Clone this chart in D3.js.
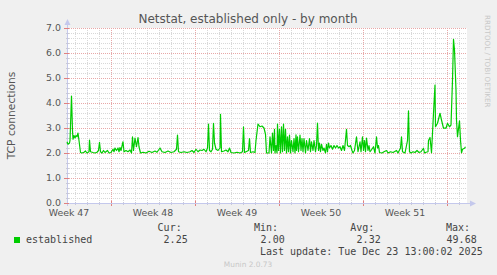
<!DOCTYPE html>
<html><head><meta charset="utf-8">
<script src="https://cdn.jsdelivr.net/npm/d3@7"></script>
<style>
html,body{margin:0;padding:0;background:#f0f0f0;}
svg{display:block;}
</style></head>
<body>
<script>
// ---- data ----
const title = "Netstat, established only - by month";
const yLabel = "TCP connections";
const seriesName = "established";
const startUTC = Date.UTC(2025, 10, 20, 8, 0); // left edge of the graph
const endUTC = Date.UTC(2025, 11, 23, 16, 0);  // right edge
const weekLabels = ["Week 47", "Week 48", "Week 49", "Week 50", "Week 51"];
const weekLabelDates = [[2025,10,20],[2025,10,27],[2025,11,4],[2025,11,11],[2025,11,18]]; // Thursdays (label at noon)
const yTicks = [0, 1, 2, 3, 4, 5, 6, 7];
const legendHeaders = ["Cur:", "Min:", "Avg:", "Max:"];
const legendValues = ["2.25", "2.00", "2.32", "49.68"];
const lastUpdate = "Last update: Tue Dec 23 13:00:02 2025";
// hours after start, value
const sampleHours = [0,2,5,6,9,11,12,14,16,18,20,22,24,27,30,34,37,40,44,45,47,52,56,60,63,65,67,70,73,76,81,84,88,92,94,96,99,102,104,106,108,112,114,118,122,126,129,131,133,136,139,142,144,147,152,158,164,170,176,180,186,190,196,202,208,214,219,221,223,228,234,240,246,250,254,258,262,266,270,274,278,281,283,285,288,291,293,295,298,302,306,307,309,314,318,322,325,328,334,340,346,351,353,355,358,363,365,367,372,376,378,382,386,390,394,397,399,404,406,409,411,413,415,416,418,420,421,423,425,427,429,431,433,435,437,439,441,443,445,447,449,452,454,456,458,459,461,463,466,468,470,472,474,477,479,482,485,487,489,492,494,497,499,501,503,505,507,509,512,514,517,519,521,523,525,528,531,534,537,540,543,546,549,552,555,559,561,564,567,570,572,575,579,582,586,588,591,593,595,597,599,602,604,606,608,613,616,619,621,623,625,630,634,639,642,647,652,659,662,667,669,671,676,681,683,685,688,692,696,700,704,708,713,715,718,722,723,726,729,733,736,737,741,746,749,753,756,758,761,765,768,771,773,775,778,779,781,785,787,789,791,795,797];
const connections = [2.45,2.35,2.4,2.5,4.28,2.9,2.55,2.7,2.6,2.7,2.65,2.8,2.5,2.02,2.0,2.03,2.08,2.0,2.05,2.52,2.05,2.02,2.0,2.03,2.1,2.43,2.05,2.0,2.1,2.02,2.1,2.0,2.02,2.15,2.05,2.2,2.1,2.2,2.05,2.22,2.1,2.45,2.05,2.1,2.05,2.12,2.0,2.65,2.1,2.6,2.25,2.62,2.25,2.0,2.03,2.0,2.07,2.02,2.08,2.03,2.2,2.05,2.02,2.08,2.02,2.05,2.15,2.72,2.05,2.02,2.05,2.02,2.05,2.1,2.02,2.15,2.05,2.12,2.1,2.15,2.05,2.2,3.16,2.1,2.05,2.15,3.19,2.4,2.15,2.1,2.2,3.55,2.05,2.08,2.12,2.05,2.2,2.02,2.0,2.03,2.0,2.05,3.05,2.02,2.05,2.1,2.58,2.02,2.05,2.02,2.5,3.16,3.05,3.08,3.0,2.75,2.0,2.0,2.65,2.0,2.8,2.1,2.95,2.0,2.3,2.0,3.16,2.1,2.95,2.0,3.05,2.05,3.16,2.1,2.95,2.0,2.65,2.05,2.72,2.0,2.5,2.05,2.58,2.0,2.73,2.1,2.65,2.05,2.72,2.1,2.58,2.05,2.58,2.0,2.5,2.1,2.58,2.05,2.45,2.1,2.5,2.05,2.3,3.2,2.1,2.4,2.05,2.35,2.1,2.2,2.0,2.35,2.05,2.4,2.2,2.3,2.15,2.3,2.2,2.3,2.2,2.25,2.1,2.3,2.1,2.95,2.3,2.25,2.3,2.1,2.0,2.1,2.65,2.05,2.45,2.05,2.65,2.1,2.5,2.05,2.6,2.1,2.3,2.05,2.1,2.25,2.0,2.65,2.2,2.3,2.02,2.0,2.05,2.1,2.0,2.05,2.02,2.1,2.0,2.2,2.65,2.05,2.0,2.5,3.69,2.05,2.0,2.05,2.02,2.1,2.02,2.05,2.19,2.0,2.03,2.05,2.5,2.62,2.01,3.59,4.72,3.05,3.19,3.59,3.32,2.99,3.0,2.99,3.19,3.05,3.12,4.92,6.55,6.12,4.52,3.32,2.65,3.29,2.52,2.01,2.15,2.19,2.25];

// ---- layout ----
const W = 497, H = 275;
const m = {left: 67, right: 467, top: 28, bottom: 203};
const svg = d3.select("body").append("svg").attr("width", W).attr("height", H);
svg.append("rect").attr("width", W).attr("height", H).attr("fill", "#f0f0f0");
svg.append("rect").attr("x", m.left).attr("y", m.top).attr("width", m.right - m.left).attr("height", m.bottom - m.top).attr("fill", "#ffffff");

const x = d3.scaleUtc().domain([new Date(startUTC), new Date(endUTC)]).range([m.left, m.right]);
const y = d3.scaleLinear().domain([0, 7]).range([m.bottom, m.top]);

const data = sampleHours.map((h, i) => ({t: new Date(startUTC + h * 3600e3), v: connections[i]}));

const grid = svg.append("g").attr("shape-rendering", "crispEdges");
// minor horizontal grid every 0.2
d3.range(0, 7.01, 0.2).forEach(v => {
  const major = Math.abs(v - Math.round(v)) < 1e-6;
  if (major) return;
  const yy = Math.round(y(v)) + 0.5;
  grid.append("line").attr("x1", m.left).attr("x2", m.right).attr("y1", yy).attr("y2", yy)
    .attr("stroke", "#d8d8d8").attr("stroke-dasharray", "1,1");
});
// minor vertical grid every day
x.ticks(d3.utcDay.every(1)).forEach(d => {
  if (d3.utcMonday(d).getTime() === d.getTime()) return;
  const xx = Math.round(x(d)) + 0.5;
  grid.append("line").attr("x1", xx).attr("x2", xx).attr("y1", m.top).attr("y2", m.bottom)
    .attr("stroke", "#d8d8d8").attr("stroke-dasharray", "1,1");
  grid.append("line").attr("x1", xx).attr("x2", xx).attr("y1", m.bottom - 1).attr("y2", m.bottom + 2).attr("stroke", "#c8c8d8");
});
// major horizontal
yTicks.forEach(v => {
  const yy = Math.round(y(v)) + 0.5;
  if (v > 0) grid.append("line").attr("x1", m.left).attr("x2", m.right).attr("y1", yy).attr("y2", yy)
    .attr("stroke", "#e8a8a8").attr("stroke-dasharray", "1,1");
});
// major vertical on Mondays
x.ticks(d3.utcMonday.every(1)).forEach(d => {
  const xx = Math.round(x(d)) + 0.5;
  grid.append("line").attr("x1", xx).attr("x2", xx).attr("y1", m.top).attr("y2", m.bottom)
    .attr("stroke", "#e8a8a8").attr("stroke-dasharray", "1,1");
  grid.append("line").attr("x1", xx).attr("x2", xx).attr("y1", m.bottom - 2).attr("y2", m.bottom + 3).attr("stroke", "#e08080");
});

// axes lines
const axisColor = "#c4c8ec";
svg.append("line").attr("x1", m.left + 0.5).attr("x2", m.left + 0.5).attr("y1", m.bottom + 3).attr("y2", m.top - 5)
  .attr("stroke", axisColor).attr("shape-rendering", "crispEdges");
svg.append("line").attr("x1", m.left - 3).attr("x2", m.right + 4).attr("y1", m.bottom + 0.5).attr("y2", m.bottom + 0.5)
  .attr("stroke", axisColor).attr("shape-rendering", "crispEdges");
svg.append("path").attr("d", `M${m.left - 2.5},${m.top - 3} L${m.left + 3.5},${m.top - 3} L${m.left + 0.5},${m.top - 9} Z`).attr("fill", axisColor);
svg.append("path").attr("d", `M${m.right + 3},${m.bottom - 2.5} L${m.right + 3},${m.bottom + 3.5} L${m.right + 9},${m.bottom + 0.5} Z`).attr("fill", axisColor);
// y minor ticks on axis
d3.range(0, 7.01, 0.2).forEach(v => {
  const yy = Math.round(y(v)) + 0.5;
  const major = Math.abs(v - Math.round(v)) < 1e-6;
  svg.append("line").attr("x1", m.left - (major ? 3 : 1)).attr("x2", m.left + 2).attr("y1", yy).attr("y2", yy)
    .attr("stroke", major ? "#e08080" : "#c8c8d8").attr("shape-rendering", "crispEdges");
});

// data line
svg.append("path").datum(data)
  .attr("d", d3.line().x(d => x(d.t)).y(d => y(d.v)))
  .attr("fill", "none").attr("stroke", "#00cc00").attr("stroke-width", 1.2).attr("stroke-linejoin", "round");

// tick labels
const sans = "DejaVu Sans, sans-serif";
svg.append("g").selectAll("text").data(yTicks).join("text")
  .attr("x", 61).attr("y", d => y(d)).attr("dy", "0.35em").attr("text-anchor", "end")
  .attr("font-family", sans).attr("font-size", 9.4).attr("fill", "#555")
  .text(d => d.toFixed(1));
svg.append("g").selectAll("text").data(weekLabels).join("text")
  .attr("x", (d, i) => x(new Date(Date.UTC(weekLabelDates[i][0], weekLabelDates[i][1], weekLabelDates[i][2], 12)))).attr("y", 216)
  .attr("text-anchor", "middle").attr("font-family", sans).attr("font-size", 9.4).attr("fill", "#555")
  .text(d => d);

// title
svg.append("text").attr("x", 248).attr("y", 23).attr("text-anchor", "middle")
  .attr("font-family", sans).attr("font-size", 12).attr("fill", "#555").text(title);
// y label
svg.append("text").attr("transform", `translate(15,${(m.top + m.bottom) / 2}) rotate(-90)`).attr("text-anchor", "middle")
  .attr("font-family", sans).attr("font-size", 10.7).attr("fill", "#555").text(yLabel);
// watermark right
svg.append("text").attr("transform", `translate(485,15) rotate(90)`).attr("text-anchor", "start")
  .attr("font-family", sans).attr("font-size", 7.2).attr("fill", "#c8c8c8").text("RRDTOOL / TOBI OETIKER");

// legend
const mono = "DejaVu Sans Mono, monospace";
const headerX = [181.7, 278, 374.3, 470];
const valueX = [187.7, 284.7, 380.7, 476.7];
svg.append("g").selectAll("text").data(legendHeaders).join("text")
  .attr("x", (d, i) => headerX[i]).attr("y", 231).attr("text-anchor", "end")
  .attr("font-family", mono).attr("font-size", 10).attr("fill", "#444").text(d => d);
svg.append("g").selectAll("text").data(legendValues).join("text")
  .attr("x", (d, i) => valueX[i]).attr("y", 243).attr("text-anchor", "end")
  .attr("font-family", mono).attr("font-size", 10).attr("fill", "#444").text(d => d);
svg.append("rect").attr("x", 14).attr("y", 237).attr("width", 6).attr("height", 6).attr("fill", "#00cc00");
svg.append("text").attr("x", 26).attr("y", 243).attr("font-family", mono).attr("font-size", 10).attr("fill", "#444").text(seriesName);
svg.append("text").attr("x", 482.7).attr("y", 255).attr("text-anchor", "end")
  .attr("font-family", mono).attr("font-size", 10).attr("fill", "#444").text(lastUpdate);
svg.append("text").attr("x", 248).attr("y", 267).attr("text-anchor", "middle")
  .attr("font-family", sans).attr("font-size", 7.4).attr("fill", "#c8c8c8").text("Munin 2.0.73");
</script>
</body></html>
